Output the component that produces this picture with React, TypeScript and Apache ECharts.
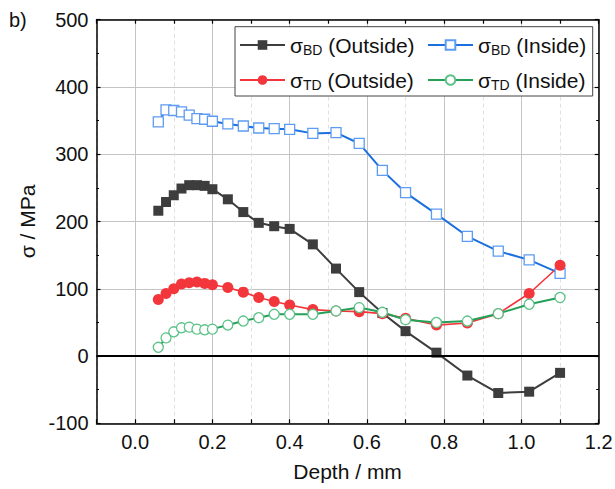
import React, { useEffect, useRef } from 'react';
import * as echarts from 'echarts';

const depth = [0.06, 0.08, 0.10, 0.12, 0.14, 0.16, 0.18, 0.20, 0.24, 0.28, 0.32, 0.36, 0.40, 0.46, 0.52, 0.58, 0.64, 0.70, 0.78, 0.86, 0.94, 1.02, 1.10];
const bdOutside = [216, 229, 239, 249, 254, 254, 253, 248, 233, 214, 198, 193, 189, 166, 130, 95, 64, 37, 5, -29, -55, -53, -25];
const bdInside = [348, 366, 365, 363, 358, 353, 352, 349, 345, 342, 339, 338, 337, 331, 332, 316, 276, 243, 211, 178, 156, 143, 123];
const tdOutside = [84, 93, 100, 107, 109, 110, 108, 106, 102, 95, 87, 81, 76, 69, 67, 66, 63, 56, 46, 49, 63, 93, 135];
const tdInside = [13, 27, 36, 42, 43, 40, 39, 40, 46, 52, 57, 62, 62, 62, 67, 72, 65, 54, 50, 52, 63, 77, 87];

const seriesNames = ['σBD (Outside)', 'σBD (Inside)', 'σTD (Outside)', 'σTD (Inside)'];
const legendRich: Record<string, string> = {
  'σBD (Outside)': 'σ{sub|BD} (Outside)',
  'σBD (Inside)': 'σ{sub|BD} (Inside)',
  'σTD (Outside)': 'σ{sub|TD} (Outside)',
  'σTD (Inside)': 'σ{sub|TD} (Inside)',
};
const xTickLabels = ['0.0', '0.2', '0.4', '0.6', '0.8', '1.0', '1.2'];
const xName = 'Depth / mm';
const yName = 'σ / MPa';
const panelLabel = 'b)';

const FONT = '"Liberation Sans", Arial, sans-serif';

function pairs(ys: number[]) {
  return depth.map((d, i) => [d, ys[i]]);
}

export default function App() {
  const ref = useRef<HTMLDivElement>(null);
  useEffect(() => {
    document.body.style.margin = '0';
    if (!ref.current) return;
    const chart = echarts.init(ref.current, undefined, { renderer: 'svg' });
    const frameLine = { show: true, onZero: false, lineStyle: { color: '#000', width: 1.5 } };
    const tickIn = { show: true, inside: true, length: 4, lineStyle: { color: '#000', width: 1.2 } };
    const legendCommon = {
      itemWidth: 45,
      itemHeight: 12,
      itemGap: 0,
      padding: 0,
      selectedMode: false,
      formatter: (n: string) => legendRich[n] || n,
      textStyle: {
        fontSize: 21,
        color: '#111',
        fontFamily: FONT,
        lineHeight: 24,
        rich: { sub: { fontSize: 14, lineHeight: 14, verticalAlign: 'bottom', fontFamily: FONT, color: '#111' } },
      },
    };
    const xCommon = {
      type: 'value',
      min: -0.1,
      max: 1.2,
      interval: 0.1,
      axisLine: frameLine,
      axisTick: tickIn,
    };
    const yCommon = {
      type: 'value',
      min: -100,
      max: 500,
      interval: 100,
      axisLine: frameLine,
      axisTick: tickIn,
      minorTick: { show: true, splitNumber: 2, length: 2.5, lineStyle: { color: '#000', width: 1 } },
    };
    const option: any = {
      animation: false,
      textStyle: { fontFamily: FONT },
      grid: { left: 96.5, right: 16.3, top: 19.7, bottom: 65.7, containLabel: false, outerBoundsMode: 'none' },
      xAxis: [
        {
          ...xCommon,
          position: 'bottom',
          name: xName,
          nameLocation: 'middle',
          nameGap: 38,
          nameTextStyle: { fontSize: 21, color: '#111', fontFamily: FONT },
          axisLabel: {
            show: true,
            margin: 9,
            fontSize: 20,
            color: '#111',
            fontFamily: FONT,
            showMinLabel: true,
            showMaxLabel: true,
            formatter: (v: number) => {
              const k = Math.round(v * 10);
              return k >= 0 && k % 2 === 0 ? xTickLabels[k / 2] : '';
            },
          },
          splitLine: {
            show: true,
            lineStyle: { color: ['rgba(0,0,0,0)', '#c4c4c4'], width: 1, type: 'solid' },
          },
        },
        {
          ...xCommon,
          position: 'top',
          axisLabel: { show: false },
          splitLine: {
            show: true,
            lineStyle: { color: ['#e0e0e0', 'rgba(0,0,0,0)'], width: 1, type: [4, 3] },
          },
        },
      ],
      yAxis: [
        {
          ...yCommon,
          position: 'left',
          name: yName,
          nameLocation: 'middle',
          nameGap: 52,
          nameRotate: 90,
          nameTextStyle: { fontSize: 21, color: '#111', fontFamily: FONT },
          axisLabel: { show: true, margin: 8, fontSize: 20, color: '#111', fontFamily: FONT },
          splitLine: { show: true, lineStyle: { color: '#c4c4c4', width: 1 } },
        },
        {
          ...yCommon,
          position: 'right',
          axisLabel: { show: false },
          splitLine: { show: false },
        },
      ],
      legend: [
        { ...legendCommon, data: [seriesNames[0]], left: 239, top: 33 },
        { ...legendCommon, data: [seriesNames[1]], left: 427, top: 33 },
        { ...legendCommon, data: [seriesNames[2]], left: 239, top: 68 },
        { ...legendCommon, data: [seriesNames[3]], left: 427, top: 68 },
      ],
      graphic: [
        {
          type: 'rect',
          z: 3,
          shape: { x: 235, y: 26.7, width: 357.7, height: 69.3 },
          style: { fill: '#fff', stroke: '#444', lineWidth: 1 },
          silent: true,
        },
        {
          type: 'text',
          left: 9,
          top: 10,
          style: { text: panelLabel, fontSize: 20, fill: '#111', fontFamily: FONT },
        },
      ],
      series: [
        {
          name: seriesNames[0],
          type: 'line',
          data: pairs(bdOutside),
          symbol: 'rect',
          symbolSize: 10,
          lineStyle: { color: '#3d3d3d', width: 2 },
          itemStyle: { color: '#3d3d3d' },
          emphasis: { disabled: true },
          markLine: {
            silent: true,
            symbol: ['none', 'none'],
            label: { show: false },
            lineStyle: { color: '#000', width: 2, type: 'solid' },
            data: [{ yAxis: 0 }],
          },
        },
        {
          name: seriesNames[1],
          type: 'line',
          data: pairs(bdInside),
          symbol: 'rect',
          symbolSize: 10,
          lineStyle: { color: '#1c6fdf', width: 2 },
          itemStyle: { color: '#ffffff', borderColor: '#5d9cf2', borderWidth: 1.3 },
          emphasis: { disabled: true },
        },
        {
          name: seriesNames[2],
          type: 'line',
          data: pairs(tdOutside),
          symbol: 'circle',
          symbolSize: 11,
          lineStyle: { color: '#f2363b', width: 1.6 },
          itemStyle: { color: '#f2363b' },
          emphasis: { disabled: true },
        },
        {
          name: seriesNames[3],
          type: 'line',
          data: pairs(tdInside),
          symbol: 'circle',
          symbolSize: 10,
          lineStyle: { color: '#24a058', width: 2 },
          itemStyle: { color: '#ffffff', borderColor: '#5cc287', borderWidth: 1.3 },
          emphasis: { disabled: true },
        },
      ],
    };
    chart.setOption(option);
    return () => chart.dispose();
  }, []);
  return <div ref={ref} style={{ width: 615, height: 489 }} />;
}
